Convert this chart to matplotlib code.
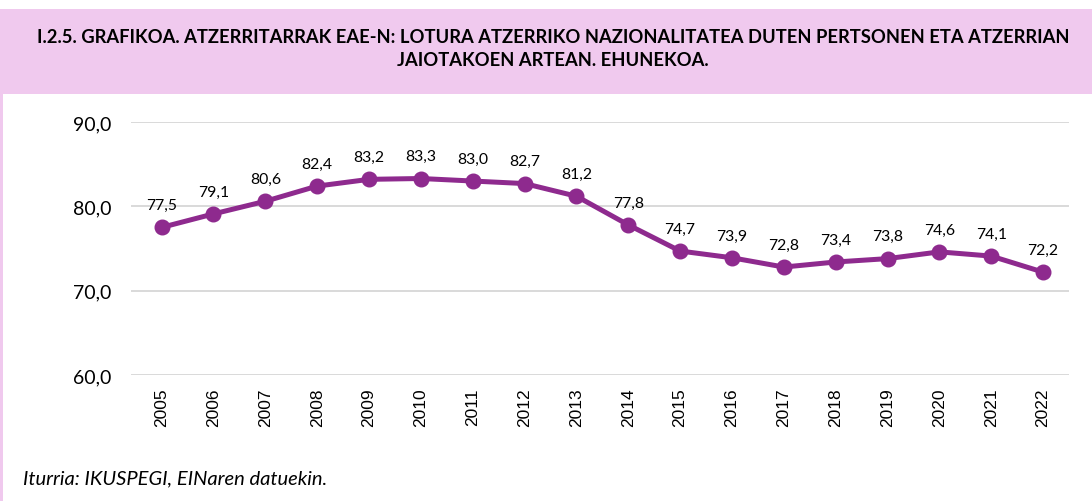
import matplotlib
matplotlib.use("Agg")
import matplotlib.pyplot as plt
from matplotlib.patches import Rectangle

# Data
years = [str(y) for y in range(2005, 2023)]
values = [77.5, 79.1, 80.6, 82.4, 83.2, 83.3, 83.0, 82.7, 81.2,
          77.8, 74.7, 73.9, 72.8, 73.4, 73.8, 74.6, 74.1, 72.2]
y_ticks = [60, 70, 80, 90]

title_text = ("I.2.5. GRAFIKOA. ATZERRITARRAK EAE-N: LOTURA ATZERRIKO NAZIONALITATEA DUTEN PERTSONEN ETA ATZERRIAN\n"
              "JAIOTAKOEN ARTEAN. EHUNEKOA.")
source_text = "Iturria: IKUSPEGI, EINaren datuekin."

purple = "#8E2A8E"
pink = "#F0C9EE"

fig = plt.figure(figsize=(10.92, 5.02), dpi=100)

# pink header band and thin left border
fig.patches.append(Rectangle((0, 1 - 95 / 502), 1, 85 / 502, transform=fig.transFigure,
                             facecolor=pink, edgecolor="none", zorder=0))
fig.patches.append(Rectangle((0, 0), 3 / 1092, 1 - 95 / 502, transform=fig.transFigure,
                             facecolor=pink, edgecolor="none", zorder=0))

fig.text(553 / 1092, 1 - 49 / 502, title_text, ha="center", va="center", fontsize=13.2,
         fontweight="bold", family="Lato", linespacing=1.42)

ax = fig.add_axes([131 / 1092, 1 - 376 / 502, (1069 - 131) / 1092, (376 - 123) / 502])
x = list(range(len(years)))
ax.plot(x, values, color=purple, linewidth=3.6, marker="o", markersize=10.5, zorder=3)

for xi, v in zip(x, values):
    ax.annotate(f"{v:.1f}".replace(".", ","), (xi, v), xytext=(0, 11),
                textcoords="offset points", ha="center", va="bottom",
                fontsize=11.3, family="Lato")

ax.set_xlim(-0.59, len(years) - 0.5)
ax.set_ylim(60, 90)
ax.set_yticks(y_ticks)
ax.set_yticklabels([f"{t:.1f}".replace(".", ",") for t in y_ticks], family="Lato", fontsize=14)
ax.set_xticks(x)
ax.set_xticklabels(years, rotation=90, family="Liberation Sans", fontsize=12.5)
ax.tick_params(length=0)
ax.tick_params(axis="y", pad=14)
ax.tick_params(axis="x", pad=9)
ax.grid(axis="y", color="#D9D9D9", linewidth=1.4)
ax.set_axisbelow(True)
for s in ax.spines.values():
    s.set_visible(False)

fig.text(23 / 1092, 1 - 479 / 502, source_text, ha="left", va="center",
         fontsize=14.5, style="italic", family="Lato")

fig.savefig("out.png", dpi=100)
